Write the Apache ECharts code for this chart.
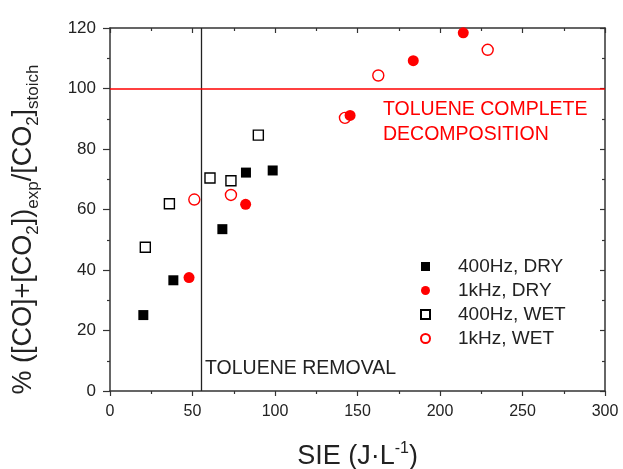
<!DOCTYPE html>
<html>
<head>
<meta charset="utf-8">
<script src="https://cdn.jsdelivr.net/npm/echarts@6/dist/echarts.min.js"></script>
<style>
  html, body { margin: 0; padding: 0; background: #fff; }
  #box { width: 623px; height: 469px; }
</style>
</head>
<body>
<div id="box"></div>
<script>
// data: [SIE, %]
var dry400 = [[20.2, 25.1], [38.4, 36.6], [68.1, 53.5], [82.4, 72.2], [98.6, 72.9]];
var dry1k = [[47.9, 37.5], [82.2, 61.7], [145.5, 91.1], [183.8, 109.2], [214.1, 118.4]];
var wet400 = [[21.4, 47.5], [36.0, 61.9], [60.6, 70.4], [73.3, 69.5], [89.9, 84.6]];
var wet1k = [[51.1, 63.3], [73.3, 64.8], [142.4, 90.3], [162.6, 104.3], [228.9, 112.8]];
var seriesNames = ['400Hz, DRY', '1kHz, DRY', '400Hz, WET', '1kHz, WET'];
var removalX = 55;      // vertical line
var completeY = 100;    // horizontal line

var font = 'Liberation Sans, Arial, sans-serif';
var axisColor = '#333';
var red = '#f00';

var chart = echarts.init(document.getElementById('box'));

function xAxisBase(pos, show) {
    return {
        type: 'value', position: pos, min: 0, max: 300, interval: 50,
        axisLine: { show: true, onZero: false, lineStyle: { color: axisColor, width: 1.5 } },
        axisTick: { show: true, inside: pos === 'top', length: 5, lineStyle: { color: axisColor, width: 1.2 } },
        minorTick: { show: true, splitNumber: 2, length: 3, lineStyle: { color: axisColor, width: 1.2 } },
        axisLabel: { show: show, fontSize: 16, color: '#222', fontFamily: font, margin: 13 },
        splitLine: { show: false }
    };
}
function yAxisBase(pos, show) {
    return {
        type: 'value', position: pos, min: 0, max: 120, interval: 20,
        axisLine: { show: true, onZero: false, lineStyle: { color: axisColor, width: 1.5 } },
        axisTick: { show: true, inside: pos === 'right', length: pos === 'right' ? 5 : 7, lineStyle: { color: axisColor, width: 1.2 } },
        minorTick: { show: true, splitNumber: 2, length: 3, lineStyle: { color: axisColor, width: 1.2 } },
        axisLabel: { show: show, fontSize: 17, color: '#222', fontFamily: font, margin: 14 },
        splitLine: { show: false }
    };
}

var xBottom = xAxisBase('bottom', true);
xBottom.name = 'SIE (J·L{sup|-1})';
xBottom.nameLocation = 'middle';
xBottom.nameGap = 50;
xBottom.nameTextStyle = {
    fontSize: 27, color: '#222', fontFamily: font, lineHeight: 32,
    rich: { sup: { fontSize: 16, verticalAlign: 'top', lineHeight: 32, fontFamily: font, color: '#222' } }
};

var yLeft = yAxisBase('left', true);
yLeft.name = '% ([CO]+[CO{sub|2}])' + '{sub|exp}' + '/[CO{sub|2}]' + '{sub|stoich}';
yLeft.nameLocation = 'middle';
yLeft.nameGap = 68;
yLeft.nameTextStyle = {
    fontSize: 27, color: '#222', fontFamily: font, lineHeight: 36,
    padding: [0, 40, 0, 0],
    rich: { sub: { fontSize: 17, verticalAlign: 'bottom', lineHeight: 36, fontFamily: font, color: '#222' } }
};

var option = {
    backgroundColor: '#fff',
    animation: false,
    grid: { left: 110, right: 18, top: 28, bottom: 78, containLabel: false, outerBoundsMode: 'none' },
    xAxis: [xBottom, xAxisBase('top', false)],
    yAxis: [yLeft, yAxisBase('right', false)],
    legend: {
        orient: 'vertical', left: 420, top: 257, itemGap: 5, padding: 0,
        itemWidth: 9, itemHeight: 9,
        textStyle: { fontSize: 19, color: '#222', fontFamily: font, padding: [0, 0, 0, 23] },
        data: [
            { name: seriesNames[0], icon: 'rect' },
            { name: seriesNames[1], icon: 'circle', itemStyle: { color: red } },
            { name: seriesNames[2], icon: 'rect' },
            { name: seriesNames[3], icon: 'circle' }
        ]
    },
    series: [
        {
            name: seriesNames[0], type: 'scatter', data: dry400, symbol: 'rect', symbolSize: 10,
            itemStyle: { color: '#000', opacity: 1 }, z: 5
        },
        {
            name: seriesNames[1], type: 'scatter', data: dry1k, symbol: 'circle', symbolSize: 11,
            itemStyle: { color: red, opacity: 1 }, z: 5
        },
        {
            name: seriesNames[2], type: 'scatter', data: wet400, symbol: 'rect', symbolSize: 10,
            itemStyle: { color: '#fff', borderColor: '#000', borderWidth: 1.4, opacity: 1 }, z: 4
        },
        {
            name: seriesNames[3], type: 'scatter', data: wet1k, symbol: 'circle', symbolSize: 11,
            itemStyle: { color: 'rgba(255,255,255,0)', borderColor: red, borderWidth: 1.4, opacity: 1 }, z: 4,
            markLine: {
                silent: true, symbol: 'none', animation: false,
                label: { show: false },
                data: [
                    { xAxis: removalX, lineStyle: { color: '#222', width: 1.3, type: 'solid' } },
                    { yAxis: completeY, lineStyle: { color: red, width: 1.5, type: 'solid' } }
                ]
            }
        }
    ],
    graphic: [
        {
            type: 'text', left: 205, top: 359,
            style: { text: 'TOLUENE REMOVAL', fontSize: 19.5, fill: '#222', fontFamily: font }
        },
        {
            type: 'text', left: 383, top: 97,
            style: { text: 'TOLUENE COMPLETE\nDECOMPOSITION', fontSize: 19.5, lineHeight: 25, fill: red, fontFamily: font }
        }
    ]
};

chart.setOption(option);
</script>
</body>
</html>
